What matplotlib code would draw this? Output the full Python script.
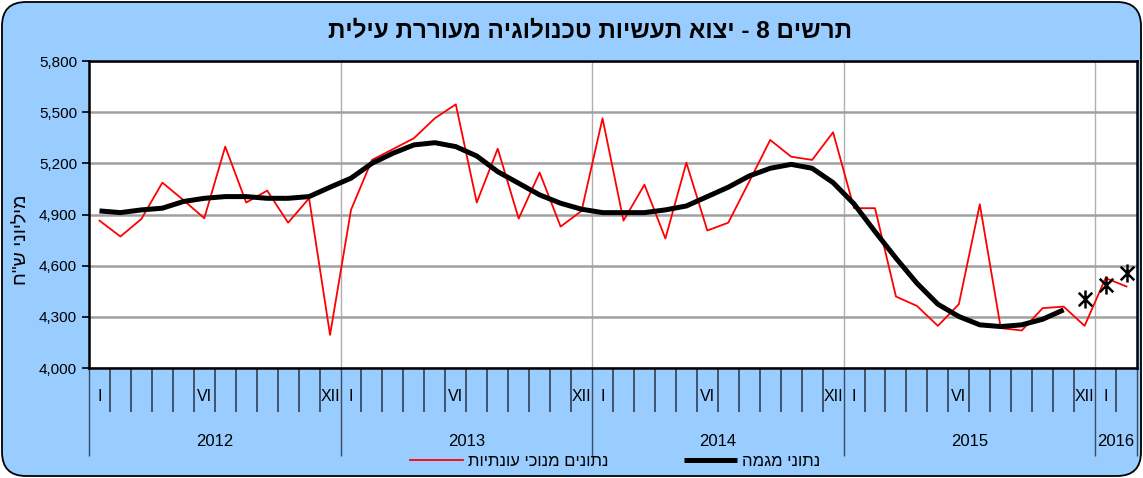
import numpy as np
import matplotlib
matplotlib.use("Agg")
import matplotlib.pyplot as plt
from matplotlib.patches import FancyBboxPatch
from matplotlib.path import Path
from matplotlib import transforms

plt.rcParams['font.family'] = ['Liberation Sans', 'DejaVu Sans']

# ---- data (מיליוני ש"ח), monthly from Jan 2012 ----
years        = ['2012', '2013', '2014', '2015', '2016']
months_in_yr = [12, 12, 12, 12, 2]
month_labels = {0: 'I', 5: 'VI', 11: 'XII'}

seasonal_adj = [4864, 4771, 4874, 5087, 4985, 4878, 5298, 4970, 5040, 4852, 4995, 4194,
                4927, 5220, 5283, 5347, 5464, 5546, 4970, 5286, 4876, 5146, 4829, 4921,
                5464, 4864, 5075, 4759, 5204, 4806, 4852, 5093, 5337, 5239, 5220, 5382,
                4937, 4937, 4419, 4364, 4247, 4374, 4960, 4234, 4220, 4351, 4360, 4247,
                4527, 4478]
trend        = [4921, 4911, 4927, 4937, 4976, 4995, 5005, 5005, 4995, 4995, 5005, 5060,
                5113, 5200, 5259, 5308, 5321, 5298, 5243, 5151, 5083, 5015, 4966, 4931,
                4911, 4911, 4911, 4927, 4950, 5005, 5060, 5126, 5171, 5194, 5171, 5087,
                4962, 4800, 4644, 4497, 4374, 4302, 4253, 4243, 4253, 4286, 4341]
# provisional trend points: Dec 2015, Jan 2016, Feb 2016
star_idx     = [47, 48, 49]
star_vals    = [4404, 4487, 4559]

title_txt  = 'תרשים 8 - יצוא תעשיות טכנולוגיה מעוררת עילית'
ylabel_txt = 'מיליוני ש"ח'
leg_red    = 'נתונים מנוכי עונתיות'
leg_black  = 'נתוני מגמה'


def rtl(s):
    # matplotlib has no bidi support: reverse Hebrew for visual order
    return s[::-1]


# X with a vertical bar, like the Excel star marker
star = Path([(0, -1), (0, 1), (-0.75, -0.75), (0.75, 0.75), (-0.75, 0.75), (0.75, -0.75)],
            [Path.MOVETO, Path.LINETO] * 3)

BLUE = '#99CCFF'
fig = plt.figure(figsize=(11.43, 4.78), dpi=100)
fig.patch.set_facecolor('white')

box = FancyBboxPatch((0.02, 0.02), 11.39, 4.74,
                     boxstyle='round,pad=0,rounding_size=0.24',
                     transform=fig.dpi_scale_trans, facecolor=BLUE,
                     edgecolor='black', linewidth=1.3, zorder=-10)
fig.patches.append(box)

ax = fig.add_axes([89/1143, 1 - 368/478, (1137 - 89)/1143, (368 - 61)/478])
ax.set_facecolor('white')

n_months = sum(months_in_yr)
x_red = np.arange(len(seasonal_adj)) + 0.5
x_tr = np.arange(len(trend)) + 0.5

ax.plot(x_red, seasonal_adj, color='red', lw=1.3, zorder=3, label=rtl(leg_red))
ax.plot(x_tr, trend, color='black', lw=3.6, zorder=4,
        solid_capstyle='butt', label=rtl(leg_black))
ax.plot(np.array(star_idx) + 0.5, star_vals, ls='none', marker=star,
        markersize=13, mew=1.8, color='black', zorder=5)

ax.set_xlim(0, n_months)
ax.set_ylim(4000, 5800)
ax.set_yticks(np.arange(4000, 5801, 300))
ax.set_yticklabels([f'{v:,}' for v in range(4000, 5801, 300)], fontsize=11)
ax.yaxis.grid(True, color='#A0A0A0', lw=1.8, zorder=1)

# year / month boundaries
bounds = np.concatenate([[0], np.cumsum(months_in_yr)])
ax.set_xticks(bounds)
ax.set_xticks(np.arange(n_months + 1), minor=True)
ax.set_xticklabels([])
ax.tick_params(axis='x', which='major', length=63, width=1.0, color='#3A4A60',
               direction='out')
ax.tick_params(axis='x', which='minor', length=31.5, width=1.3, color='#3A4A60',
               direction='out')
ax.tick_params(axis='y', length=5, width=1.2, direction='out')
for b in bounds[1:-1]:
    ax.axvline(b, color='#B0B0B0', lw=1.0, zorder=1)

for sp in ax.spines.values():
    sp.set_linewidth(1.8)
    sp.set_color('black')

trans = transforms.blended_transform_factory(ax.transData, ax.transAxes)
start = 0
for yr, n in zip(years, months_in_yr):
    for m in range(n):
        if m in month_labels:
            ax.text(start + m + 0.5, -0.094, month_labels[m], transform=trans,
                    ha='center', va='center', fontsize=11.5, clip_on=False)
    ax.text(start + n / 2, -0.238, yr, transform=trans, ha='center',
            va='center', fontsize=12, clip_on=False)
    start += n

fig.text(590 / 1143, 1 - 31 / 478, rtl(title_txt), ha='center', va='center',
         fontsize=17.5, fontweight='bold')
fig.text(22 / 1143, 1 - 240 / 478, rtl(ylabel_txt), rotation=90,
         ha='center', va='center', fontsize=14)

fig.legend(loc='center', bbox_to_anchor=(615 / 1143, 1 - 461 / 478), ncol=2,
           frameon=False, fontsize=12, handlelength=3.2, handletextpad=0.3,
           columnspacing=4.5, borderpad=0)

fig.savefig('out.png', dpi=100, facecolor=fig.get_facecolor())
